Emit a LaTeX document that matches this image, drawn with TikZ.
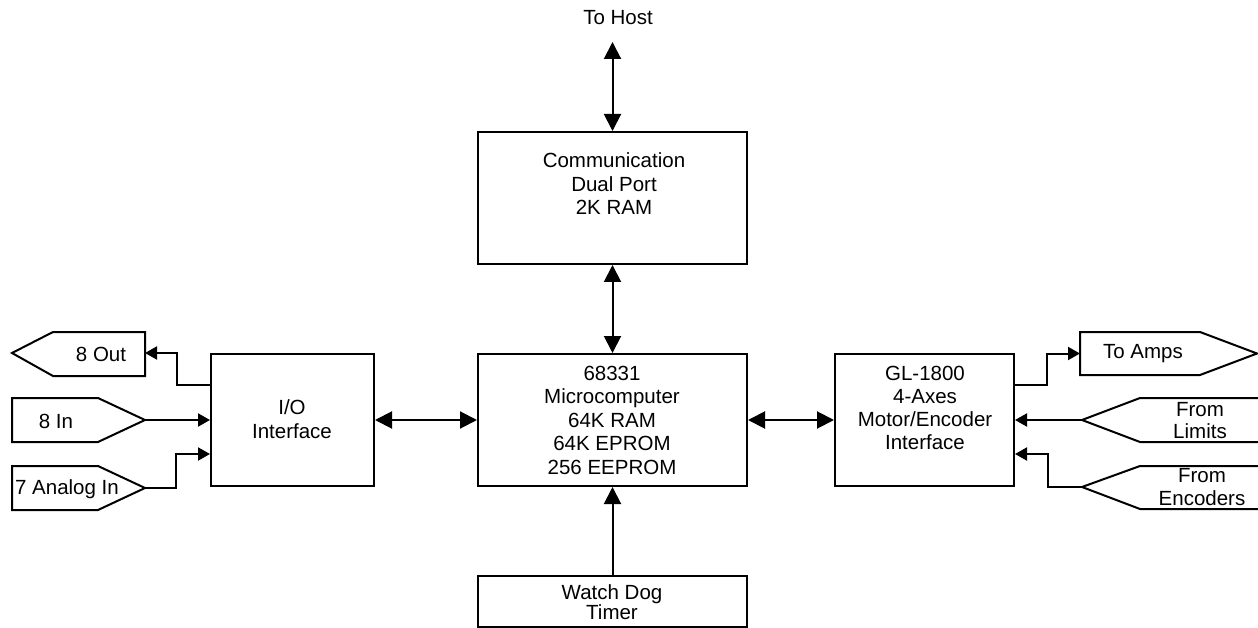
\documentclass[tikz,border=0pt]{standalone}
\usepackage{fontspec}
\setmainfont{Liberation Sans}
\usetikzlibrary{arrows.meta,calc}
\begin{document}
\begin{tikzpicture}[x=1pt,y=-1pt,
  blk/.style={draw, line width=2pt, inner sep=0pt},
  lbl/.style={align=center, font=\fontsize{20.5}{23.5}\selectfont, inner sep=0pt},
  wire/.style={line width=2pt},
  big/.style={wire,-{Triangle[length=17pt,width=17pt]}},
  bigboth/.style={wire,{Triangle[length=17pt,width=17pt]}-{Triangle[length=17pt,width=17pt]}},
  small/.style={wire,-{Triangle[length=12pt,width=13pt]}},
  tag/.style={line width=2pt, line join=miter}]
\useasboundingbox (0,0) rectangle (1258,628);

% main blocks
\node[blk, minimum width=269pt, minimum height=132pt] (comm)  at (612.5,198) {};
\node[blk, minimum width=269pt, minimum height=132pt] (micro) at (612.5,420) {};
\node[blk, minimum width=269pt, minimum height=51pt]  (wdog)  at (612.5,601.5) {};
\node[blk, minimum width=163pt, minimum height=132pt] (io)    at (292.5,420) {};
\node[blk, minimum width=179pt, minimum height=132pt] (gl)    at (924.5,420) {};

% block texts
\node[lbl] (commtxt)  at (614,184) {Communication\\Dual Port\\2K RAM};
\node[lbl] (microtxt) at (612,420) {68331\\Microcomputer\\64K RAM\\64K EPROM\\256 EEPROM};
\node[lbl, font=\fontsize{20.5}{20}\selectfont] (wdogtxt) at (612,602) {Watch Dog\\Timer};
\node[lbl] (iotxt)    at (292,419) {I/O\\Interface};
\node[lbl, font=\fontsize{20.5}{23}\selectfont] (gltxt) at (925,408) {GL-1800\\4-Axes\\Motor/Encoder\\Interface};

% host link
\node[lbl] (hosttxt) at (618,18) {To Host};
\coordinate (host) at (612.5,42);
\draw[bigboth] (host) -- (comm.north);
\draw[bigboth] (comm.south) -- (micro.north);
\draw[big] (wdog.north) -- (micro.south);
\draw[bigboth] (io.east) -- (micro.west);
\draw[bigboth] (micro.east) -- (gl.west);

% I/O side tags
\draw[tag] (12,353) -- (53,332) -- (145,332) -- (145,376) -- (53,376) -- cycle;
\coordinate (outP) at (145,353);
\node[lbl] (outtxt) at (101,354) {8 Out};

\draw[tag] (12,398) -- (98,398) -- (145,420) -- (98,442) -- (12,442) -- cycle;
\coordinate (inP) at (145,420);
\node[lbl] (intxt) at (56,421) {8 In};

\draw[tag] (12,466) -- (98,466) -- (145,488) -- (98,510) -- (12,510) -- cycle;
\coordinate (anaP) at (145,488);
\node[lbl] (anatxt) at (67,489) {7 Analog In};

\draw[small] ($(io.west)+(0,-35)$) -| ($(outP)+(32,0)$) -- (outP);
\draw[small] (inP) -- (io.west);
\draw[small] (anaP) -| ($(io.west)+(-34,34)$) -- ($(io.west)+(0,34)$);

% motor side tags
\draw[tag] (1080,332) -- (1200,332) -- (1257,353.5) -- (1200,375) -- (1080,375) -- cycle;
\coordinate (ampsP) at (1080,353.5);
\node[lbl] (ampstxt) at (1143,354) {To Amps};

\draw[tag] (1258,398) -- (1140,398) -- (1082,420) -- (1140,442) -- (1258,442);
\coordinate (limP) at (1082,420);
\node[lbl, font=\fontsize{20.5}{22}\selectfont] (limtxt) at (1200,421) {From\\Limits};

\draw[tag] (1258,466) -- (1140,466) -- (1082,487) -- (1140,509) -- (1258,509);
\coordinate (encP) at (1082,487);
\node[lbl, font=\fontsize{20.5}{23}\selectfont] (enctxt) at (1202,487) {From\\Encoders};

\draw[small] ($(gl.east)+(0,-35)$) -| ($(ampsP)+(-33,0)$) -- (ampsP);
\draw[small] (limP) -- (gl.east);
\draw[small] (encP) -| ($(gl.east)+(33,34)$) -- ($(gl.east)+(0,34)$);
\end{tikzpicture}
\end{document}
